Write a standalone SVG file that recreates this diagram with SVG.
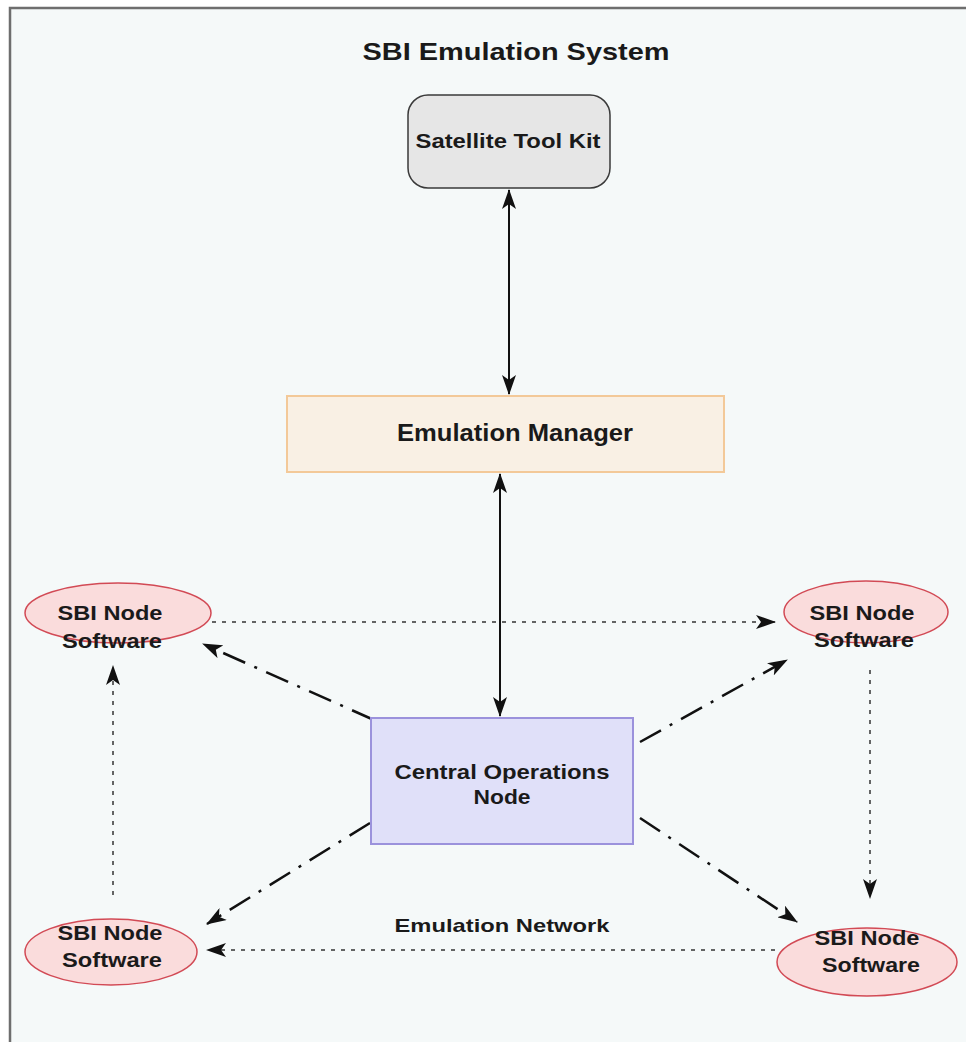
<svg xmlns="http://www.w3.org/2000/svg" width="966" height="1042" viewBox="0 0 966 1042">
<style>
.t{font-family:"Liberation Sans",Arial,sans-serif;font-weight:bold;fill:#1a1a1a;text-anchor:middle}
.ell{fill:#fadcdc;stroke:#d24a55;stroke-width:1.5}
.solid{stroke:#111;stroke-width:2;fill:none}
.dot{stroke:#333;stroke-width:1.5;fill:none;stroke-dasharray:4 6}
.dd{stroke:#111;stroke-width:2.5;fill:none;stroke-dasharray:24 10 3 10}
</style>
<defs>
<marker id="ah" viewBox="0 0 20 14" refX="19" refY="7" markerWidth="20" markerHeight="14" markerUnits="userSpaceOnUse" orient="auto-start-reverse">
<path d="M0,0 L20,7 L0,14 L5,7 Z" fill="#111"/>
</marker>
</defs>
<rect x="0" y="0" width="966" height="1042" fill="#ffffff"/>
<rect x="10" y="8" width="970" height="1050" fill="#f5f9f9" stroke="#6e6e6e" stroke-width="2.5"/>
<text class="t" x="516" y="60" font-size="24" textLength="307" lengthAdjust="spacingAndGlyphs">SBI Emulation System</text>

<g id="connectors">
<line class="solid" x1="509" y1="190" x2="509" y2="394" marker-start="url(#ah)" marker-end="url(#ah)"/>
<line class="solid" x1="500" y1="474" x2="500" y2="716" marker-start="url(#ah)" marker-end="url(#ah)"/>
<line class="dot" x1="212" y1="622" x2="775" y2="622" marker-end="url(#ah)"/>
<line class="dot" x1="113" y1="895" x2="113" y2="666" marker-end="url(#ah)"/>
<line class="dot" x1="870" y1="670" x2="870" y2="898" marker-end="url(#ah)"/>
<line class="dot" x1="775" y1="950" x2="207" y2="950" marker-end="url(#ah)"/>
<line class="dd" x1="374" y1="720" x2="203" y2="644" marker-end="url(#ah)"/>
<line class="dd" x1="640" y1="742" x2="787" y2="660" marker-end="url(#ah)"/>
<line class="dd" x1="370" y1="823" x2="207" y2="924" marker-end="url(#ah)"/>
<line class="dd" x1="640" y1="818" x2="797" y2="922" marker-end="url(#ah)"/>
</g>

<g id="stk">
<rect x="408" y="95" width="202" height="93" rx="20" fill="#e6e6e6" stroke="#3a3a3a" stroke-width="1.5"/>
<text class="t" x="508" y="148" font-size="21" textLength="185" lengthAdjust="spacingAndGlyphs">Satellite Tool Kit</text>
</g>
<g id="emulation-manager">
<rect x="287" y="396" width="437" height="76" fill="#f9f0e4" stroke="#f3c999" stroke-width="2"/>
<text class="t" x="515" y="441" font-size="23" textLength="236" lengthAdjust="spacingAndGlyphs">Emulation Manager</text>
</g>
<g id="central-ops">
<rect x="371" y="718" width="262" height="126" fill="#e0e0f9" stroke="#9b92dc" stroke-width="2"/>
<text class="t" x="502" y="779" font-size="21" textLength="215" lengthAdjust="spacingAndGlyphs">Central Operations</text>
<text class="t" x="502" y="804" font-size="21" textLength="57" lengthAdjust="spacingAndGlyphs">Node</text>
</g>
<g id="sbi-tl">
<ellipse class="ell" cx="118" cy="613" rx="93" ry="30"/>
<text class="t" x="110" y="620" font-size="21" textLength="105" lengthAdjust="spacingAndGlyphs">SBI Node</text>
<text class="t" x="112" y="648" font-size="21" textLength="100" lengthAdjust="spacingAndGlyphs">Software</text>
</g>
<g id="sbi-tr">
<ellipse class="ell" cx="866" cy="612" rx="82" ry="31"/>
<text class="t" x="862" y="620" font-size="21" textLength="105" lengthAdjust="spacingAndGlyphs">SBI Node</text>
<text class="t" x="864" y="647" font-size="21" textLength="100" lengthAdjust="spacingAndGlyphs">Software</text>
</g>
<g id="sbi-bl">
<ellipse class="ell" cx="111" cy="952" rx="86" ry="33"/>
<text class="t" x="110" y="940" font-size="21" textLength="105" lengthAdjust="spacingAndGlyphs">SBI Node</text>
<text class="t" x="112" y="967" font-size="21" textLength="100" lengthAdjust="spacingAndGlyphs">Software</text>
</g>
<g id="sbi-br">
<ellipse class="ell" cx="867" cy="962" rx="90" ry="34"/>
<text class="t" x="867" y="945" font-size="21" textLength="105" lengthAdjust="spacingAndGlyphs">SBI Node</text>
<text class="t" x="871" y="972" font-size="21" textLength="98" lengthAdjust="spacingAndGlyphs">Software</text>
</g>
<text class="t" x="502" y="932" font-size="19" textLength="215" lengthAdjust="spacingAndGlyphs">Emulation Network</text>
</svg>
